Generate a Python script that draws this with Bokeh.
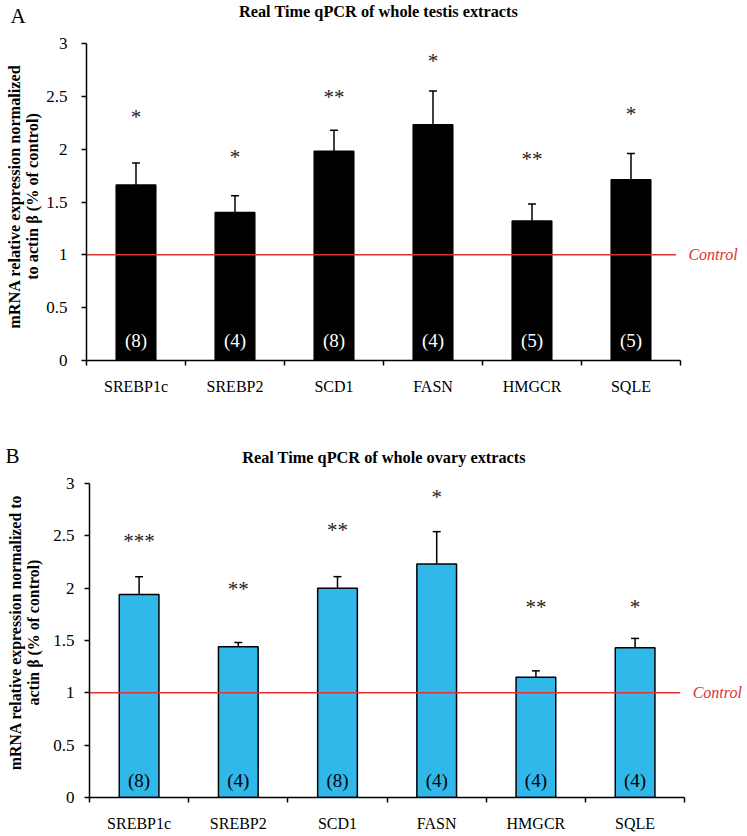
import math
from bokeh.plotting import figure
from bokeh.models import FixedTicker, Label, ColumnDataSource
from bokeh.layouts import column, row
from bokeh.embed import file_html
from bokeh.resources import INLINE
from bokeh.core.properties import value

genes = ["SREBP1c", "SREBP2", "SCD1", "FASN", "HMGCR", "SQLE"]

# Panel A: whole testis
testis_mean = [1.66, 1.40, 1.98, 2.23, 1.32, 1.71]
testis_err_top = [1.87, 1.56, 2.18, 2.55, 1.48, 1.96]
testis_stars = ["*", "*", "**", "*", "**", "*"]
testis_star_y = [2.33, 1.95, 2.52, 2.86, 1.94, 2.36]
testis_n = ["(8)", "(4)", "(8)", "(4)", "(5)", "(5)"]

# Panel B: whole ovary
ovary_mean = [1.94, 1.44, 2.00, 2.23, 1.15, 1.43]
ovary_err_top = [2.11, 1.48, 2.11, 2.54, 1.21, 1.52]
ovary_stars = ["***", "**", "**", "*", "**", "*"]
ovary_star_y = [2.48, 2.02, 2.58, 2.90, 1.85, 1.85]
ovary_n = ["(8)", "(4)", "(8)", "(4)", "(4)", "(4)"]

control_level = 1.0
yticks = [0, 0.5, 1, 1.5, 2, 2.5, 3]

SERIF = "Liberation Serif"
RED = "#E03232"
SIDE_W = 43


def side(letter, letter_x, lines, height, bottom, letter_y, label_y, line_x, size):
    fh = height - bottom  # frame height in px; y measured from frame bottom
    s = figure(width=SIDE_W, height=height, output_backend="svg",
               toolbar_location=None, x_range=(0, SIDE_W), y_range=(0, fh),
               min_border_left=0, min_border_right=0, min_border_top=0,
               min_border_bottom=bottom,
               x_axis_location=None, y_axis_location=None)
    s.outline_line_color = None
    s.grid.grid_line_color = None
    s.add_layout(Label(x=letter_x, y=fh - letter_y, text=letter,
                       text_font=SERIF, text_font_size="21px",
                       text_align="left", text_baseline="middle",
                       text_color="black"))
    for txt, lx in zip(lines, line_x):
        s.add_layout(Label(x=lx, y=fh - label_y, text=txt, angle=math.pi / 2,
                           text_font=SERIF, text_font_style="bold",
                           text_font_size=size, text_align="center",
                           text_baseline="middle", text_color="black"))
    return s


def panel(title, title_x, title_y, means, err_tops, stars, star_y, ns, n_y,
          bar_color, n_color, height, left, y_end, x_end, bottom, tick_standoff):
    p = figure(width=747 - SIDE_W, height=height, output_backend="svg",
               toolbar_location=None, x_range=(0, x_end), y_range=(0, y_end),
               min_border_left=left, min_border_right=0, min_border_top=0,
               min_border_bottom=bottom)
    p.outline_line_color = None
    p.xgrid.grid_line_color = None
    p.ygrid.grid_line_color = None

    xs = [i + 0.5 for i in range(len(genes))]
    src = ColumnDataSource(dict(x=xs, top=means, err=err_tops, star=stars,
                                sy=star_y, n=ns, ny=[n_y] * len(xs)))

    p.vbar(x="x", top="top", bottom=0, width=0.4, source=src,
           fill_color=bar_color, line_color="black", line_width=1.5)
    p.segment(x0="x", y0="top", x1="x", y1="err", source=src,
              line_color="black", line_width=1.5)
    cap = 0.04
    p.segment(x0=[x - cap for x in xs], y0=err_tops, x1=[x + cap for x in xs],
              y1=err_tops, line_color="black", line_width=1.5)

    # control line
    p.segment(x0=[0], y0=[control_level], x1=[5.955], y1=[control_level],
              line_color=RED, line_width=1.5)
    p.text(x=[6.08], y=[control_level], text=["Control"], text_color=RED,
           text_font=value(SERIF), text_font_style="italic",
           text_font_size="16px", text_baseline="middle", text_align="left")

    # significance stars
    p.text(x="x", y="sy", text="star", source=src, text_font=value(SERIF),
           text_font_size="21px", text_align="center", text_baseline="middle",
           y_offset=3, text_color="#222222")
    # n labels
    p.text(x="x", y="ny", text="n", source=src, text_font=value(SERIF),
           text_font_size="19px", text_align="center", text_baseline="middle",
           text_color=n_color)

    # axes
    p.xaxis.bounds = (0, 6)
    p.xaxis.ticker = FixedTicker(ticks=xs, minor_ticks=[0, 1, 2, 3, 4, 5, 6])
    p.xaxis.major_label_overrides = {x: g for x, g in zip(xs, genes)}
    p.xaxis.major_tick_line_color = None
    p.xaxis.major_tick_out = 0
    p.xaxis.major_tick_in = 0
    p.xaxis.minor_tick_line_color = "black"
    p.xaxis.minor_tick_line_width = 1.5
    p.xaxis.minor_tick_out = 5
    p.xaxis.minor_tick_in = 0
    p.xaxis.major_label_standoff = 12
    p.xaxis.major_label_text_font = SERIF
    p.xaxis.major_label_text_font_size = "16px"
    p.xaxis.major_label_text_color = "black"
    p.xaxis.axis_line_width = 1.5
    p.xaxis.axis_line_color = "black"

    p.yaxis.bounds = (0, 3)
    p.yaxis.ticker = FixedTicker(ticks=yticks, minor_ticks=[])
    p.yaxis.major_tick_out = 5
    p.yaxis.major_tick_in = 0
    p.yaxis.major_tick_line_width = 1.5
    p.yaxis.major_tick_line_color = "black"
    p.yaxis.major_label_standoff = tick_standoff
    p.yaxis.major_label_text_font = SERIF
    p.yaxis.major_label_text_font_size = "17px"
    p.yaxis.major_label_text_color = "black"
    p.yaxis.axis_line_width = 1.5
    p.yaxis.axis_line_color = "black"

    p.add_layout(Label(x=title_x, y=title_y, text=title, text_font=SERIF,
                       text_font_style="bold", text_font_size="16.3px",
                       text_align="center", text_baseline="middle",
                       text_color="black"))
    return p


HA, HB = 418, 418
BA, BB = 58, 39

sa = side("A", 10, ["mRNA relative expression normalized", "to actin \u03b2 (% of control)"],
          HA, BA, letter_y=15, label_y=196, line_x=[14, 32], size="16.25px")
pa = panel("Real Time qPCR of whole testis extracts", 2.95, 3.303,
           testis_mean, testis_err_top, testis_stars, testis_star_y, testis_n, 0.19,
           "black", "white", height=HA, left=41, y_end=3.407, x_end=6.677,
           bottom=BA, tick_standoff=14)

sb = side("B", 5, ["mRNA relative expression normalized to", "actin \u03b2 (% of control)"],
          HB, BB, letter_y=37, label_y=214, line_x=[15, 33], size="15.9px")
pb = panel("Real Time qPCR of whole ovary extracts", 2.969, 3.248,
           ovary_mean, ovary_err_top, ovary_stars, ovary_star_y, ovary_n, 0.158,
           "#30B8EA", "black", height=HB, left=46, y_end=3.621, x_end=6.633,
           bottom=BB, tick_standoff=10)

layout = column(row(sa, pa, spacing=0), row(sb, pb, spacing=0), spacing=0)
open("out.html", "w").write(file_html(layout, INLINE))
